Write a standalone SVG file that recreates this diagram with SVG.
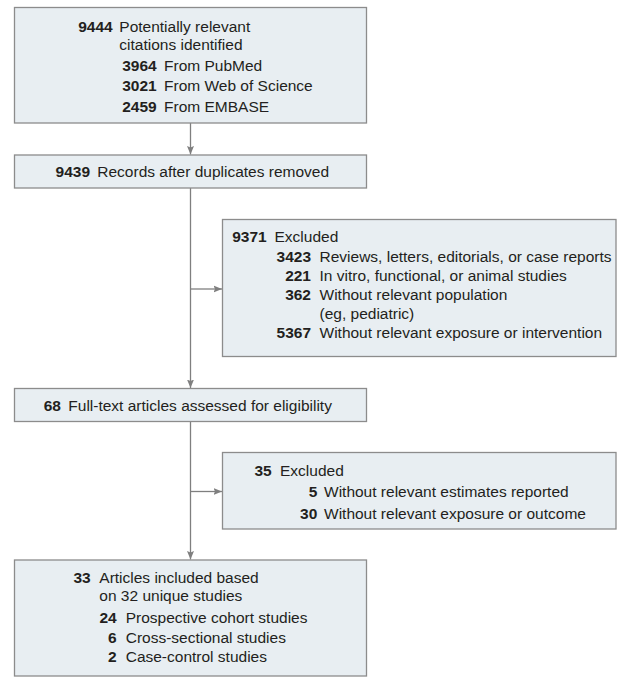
<svg xmlns="http://www.w3.org/2000/svg" width="617" height="677" viewBox="0 0 617 677">
<defs>
<marker id="ah" markerUnits="userSpaceOnUse" markerWidth="9" markerHeight="8" refX="8.5" refY="4" orient="auto">
<path d="M0,0.5 L8.5,4 L0,7.5 L1.5,4 z" fill="#7f7f7f"/>
</marker>
<style>
.box{fill:#e8eef2;stroke:#8c8c8c;stroke-width:1.3}
text{font-family:"Liberation Sans",Arial,sans-serif;font-size:15.5px;fill:#231f20}
.n{font-weight:bold;text-anchor:end}
.c{stroke:#7f7f7f;stroke-width:1.3;fill:none}
</style>
</defs>
<rect width="617" height="677" fill="#ffffff"/>
<g id="connectors">
<line class="c" x1="190.5" y1="123" x2="190.5" y2="154.5" marker-end="url(#ah)"/>
<line class="c" x1="190.5" y1="188" x2="190.5" y2="388" marker-end="url(#ah)"/>
<line class="c" x1="190.5" y1="289" x2="222" y2="289" marker-end="url(#ah)"/>
<line class="c" x1="190.5" y1="421.5" x2="190.5" y2="559.5" marker-end="url(#ah)"/>
<line class="c" x1="190.5" y1="491.5" x2="222" y2="491.5" marker-end="url(#ah)"/>
</g>
<g id="identified">
<rect class="box" x="14.5" y="7.5" width="352" height="115.5"/>
<text class="n" x="112.7" y="31.7">9444</text>
<text x="119.3" y="31.7">Potentially relevant</text>
<text x="119.3" y="50">citations identified</text>
<text class="n" x="156.7" y="70.7">3964</text>
<text x="164" y="70.7">From PubMed</text>
<text class="n" x="156.7" y="91">3021</text>
<text x="164" y="91">From Web of Science</text>
<text class="n" x="156.7" y="111.5">2459</text>
<text x="164" y="111.5">From EMBASE</text>
</g>
<g id="deduplicated">
<rect class="box" x="14.5" y="155" width="352" height="33"/>
<text class="n" x="90" y="177.3">9439</text>
<text x="97.3" y="177.3">Records after duplicates removed</text>
</g>
<g id="excluded1">
<rect class="box" x="222.5" y="219.5" width="393.5" height="137"/>
<text class="n" x="266.7" y="242.3">9371</text>
<text x="274.5" y="242.3">Excluded</text>
<text class="n" x="311" y="261.7">3423</text>
<text x="319.5" y="261.7">Reviews, letters, editorials, or case reports</text>
<text class="n" x="311" y="281">221</text>
<text x="319.5" y="281">In vitro, functional, or animal studies</text>
<text class="n" x="311" y="300">362</text>
<text x="319.5" y="300">Without relevant population</text>
<text x="319.5" y="319">(eg, pediatric)</text>
<text class="n" x="311" y="338.3">5367</text>
<text x="319.5" y="338.3">Without relevant exposure or intervention</text>
</g>
<g id="fulltext">
<rect class="box" x="14.5" y="388.5" width="352" height="33"/>
<text class="n" x="61" y="410.7">68</text>
<text x="68.3" y="410.7">Full-text articles assessed for eligibility</text>
</g>
<g id="excluded2">
<rect class="box" x="222.5" y="452.5" width="393.5" height="76.5"/>
<text class="n" x="271.7" y="476.3">35</text>
<text x="280" y="476.3">Excluded</text>
<text class="n" x="317.3" y="497">5</text>
<text x="324" y="497">Without relevant estimates reported</text>
<text class="n" x="317.3" y="518.5">30</text>
<text x="324" y="518.5">Without relevant exposure or outcome</text>
</g>
<g id="included">
<rect class="box" x="14.5" y="560" width="352" height="116"/>
<text class="n" x="90.7" y="582.7">33</text>
<text x="99.3" y="582.7">Articles included based</text>
<text x="99.3" y="600.5">on 32 unique studies</text>
<text class="n" x="116.7" y="622.7">24</text>
<text x="125.7" y="622.7">Prospective cohort studies</text>
<text class="n" x="116.7" y="642.7">6</text>
<text x="125.7" y="642.7">Cross-sectional studies</text>
<text class="n" x="116.7" y="661.7">2</text>
<text x="125.7" y="661.7">Case-control studies</text>
</g>
</svg>
